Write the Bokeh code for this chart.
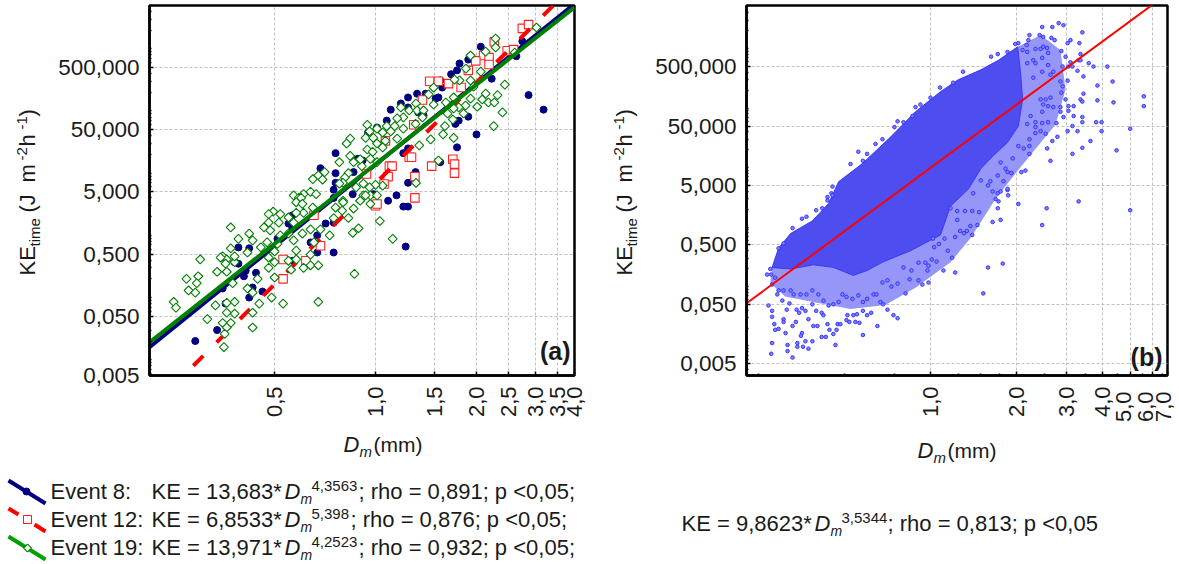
import math
from bokeh.embed import file_html
from bokeh.resources import INLINE
from bokeh.plotting import figure
from bokeh.layouts import row, column
from bokeh.models import FixedTicker, Range1d
from bokeh.core.properties import value

# --- Data: (Dm mm, KEtime J m-2 h-1) -----------------------------------------
event8 = [(2.74,1320),(2.63,760),(2.06,1080),(1.89,670),(1.78,580),(1.75,450),(1.68,390),(1.56,310),(2.22,330),(1.58,238),
(1.54,165),(1.51,158),(1.41,190),(1.33,190),(1.25,165),(1.19,132),(1.11,105),(1.25,114),(1.34,95),(1.39,85),(1.08,70),
(1.01,54),(0.95,45),(2.86,180),(3.17,105),(1.73,62),(1.77,70),(1.89,81),(2.0,42),(1.75,26),(1.56,15),(1.25,25),(1.21,21),
(0.76,21),(0.885,17),(0.915,16),(0.685,12),(0.76,10),(0.86,10.4),(1.316,10.4),(1.25,7),(0.76,7),(0.75,5.4),(1.155,4.4),
(1.09,3.6),(0.855,4.6),(0.75,4),(1.21,2.9),(1.25,2.9),(1.23,0.66),(0.985,4.6),(0.75,1.6),(0.71,1.55),(0.75,0.53),(0.67,0.53),
(0.67,1.0),(0.64,0.77),(0.565,2.1),(0.565,1.3),(0.55,1.55),(0.51,0.88),(0.565,0.39),(0.46,0.125),(0.44,0.25),(0.43,0.145),
(0.42,0.1),(0.405,0.22),(0.41,0.27),(0.39,0.35),(0.38,0.37),(0.42,0.62),(0.39,0.64),(0.35,0.14),(0.357,0.08),(0.337,0.03),(0.29,0.02)]

event12 = [(2.74,2130),(2.86,2450),(2.26,1300),(2.47,930),(2.58,970),(2.10,780),(2.18,720),(1.99,640),(2.18,560),(1.89,450),
(1.45,300),(1.54,300),(1.65,275),(1.80,238),(1.38,150),(1.30,60),(1.07,33),(1.26,18),(1.28,18),(1.47,13),(1.70,16.7),(1.72,14),
(1.72,10),(1.10,13),(1.12,13),(0.94,9.7),(1.09,8.8),(1.31,8.8),(1.31,4),(1.0,3),(1.01,3.2),(1.06,6.7),(0.655,2.1),(0.685,0.68),
(0.62,0.39),(0.53,0.41),(0.53,0.2)]

event19 = [(3.02,2200),(2.28,1460),(2.28,1050),(2.13,900),(1.92,780),(2.60,870),(1.86,480),(2.06,430),(1.92,310),(1.78,310),
(1.72,320),(1.96,245),(2.43,265),(1.49,238),(1.44,185),(2.13,190),(2.31,180),(1.92,158),(1.71,165),(2.08,153),(2.17,137),
(2.26,137),(2.01,117),(1.855,122),(1.77,114),(1.62,137),(1.49,127),(1.71,110),(1.64,91),(1.83,91),(2.39,95),(1.70,73),(2.25,57),
(1.61,57),(1.59,42),(1.71,37),(1.35,28),(1.46,35),(1.54,16),(1.32,7),(1.19,114),(1.26,102),(1.32,132),(1.33,102),(1.39,102),
(1.21,79),(1.16,76),(1.316,62),(1.38,79),(0.945,60),(1.01,52),(1.08,57),(1.14,57),(1.21,52),(0.96,47),(1.05,45),(1.11,47),
(0.934,37),(0.985,37),(0.84,36),(0.82,30),(1.07,33),(1.16,36),(0.945,24),(1.01,30),(0.98,22),(1.05,26),(0.84,19),(0.78,15),
(0.86,15),(0.91,13),(1.01,15),(0.965,17),(0.90,16.7),(0.65,8),(0.675,9.2),(0.705,10.4),(0.695,7.9),(0.83,10),(0.81,8.5),(0.80,7),
(0.78,6.8),(0.92,6.8),(1.05,6.3),(1.0,6.5),(0.96,5.9),(0.875,5.9),(0.57,4.4),(0.61,4.6),(0.64,5),(0.665,4.6),(0.92,4.4),(0.965,4.4),
(1.01,4.4),(0.59,4),(0.80,3.6),(0.60,4),(0.58,3.4),(0.605,3.2),(0.65,2.8),(0.61,2.3),(0.58,2.3),(0.495,2.4),(0.48,2.2),(0.52,2.2),
(0.48,1.6),(0.515,1.6),(0.55,1.94),(0.57,1.6),(0.465,1.34),(0.485,1.2),(0.52,1.0),(0.55,1.07),(0.605,1.07),(0.64,1.25),(0.57,0.83),
(0.655,0.77),(0.685,1.25),(0.73,1.0),(0.75,1.9),(0.80,3.4),(0.76,2.8),(0.795,2.5),(0.83,1.9),(0.86,2.7),(0.90,3.6),(0.965,3.2),
(0.934,4.4),(1.03,1.7),(0.89,1.3),(0.855,1.1),(1.125,0.88),(0.865,0.24),(0.675,0.085),(0.53,0.08),(0.49,0.1),(0.50,0.21),(0.48,0.3),
(0.50,0.37),(0.56,0.28),(0.55,0.39),(0.58,0.57),(0.58,0.41),(0.61,0.3),(0.64,0.33),(0.675,0.33),(0.64,0.49),(0.50,0.55),(0.48,0.44),
(0.475,0.77),(0.51,0.73),(0.455,0.64),(0.415,0.53),(0.43,0.83),(0.42,1.07),(0.39,0.88),(0.37,1.34),(0.37,0.62),(0.35,0.46),(0.36,0.41),
(0.337,0.26),(0.36,0.26),(0.38,0.37),(0.375,0.17),(0.415,0.14),(0.445,0.2),(0.43,0.12),(0.45,0.08),(0.43,0.057),(0.43,0.033),(0.36,0.082),
(0.38,0.085),(0.333,0.075),(0.38,0.055),(0.36,0.057),(0.315,0.045),(0.37,0.039),(0.35,0.039),(0.36,0.033),(0.355,0.026),(0.353,0.016),
(0.30,0.41),(0.273,0.2),(0.296,0.22),(0.293,0.17),(0.277,0.13),(0.29,0.12),(0.25,0.085),(0.254,0.069),(0.345,0.44),(0.357,0.35),(0.38,0.46)]

# Fit lines, end points in data units
fit8_dm, fit8_ke = [0.2118, 3.92], [0.01586, 5262]
fit12_dm, fit12_ke = [0.2118, 3.5], [0.00158, 5925]
fit19_dm, fit19_ke = [0.2118, 3.92], [0.0190, 4656]
fitb_dm, fitb_ke = [0.227, 6.754], [0.0523, 8410]

# Panel (b): outline of the saturated core of the cloud
core_dm = [0.279,0.294,0.324,0.386,0.44,0.477,0.578,0.724,0.886,1.084,1.25,1.50,1.73,2.02,2.07,2.1,2.03,1.86,1.66,1.50,1.36,1.175,1.084,0.851,0.683,0.60,0.537,0.457,0.389,0.324]
core_ke = [0.209,0.44,0.78,1.27,2.5,5.8,11.7,32.5,87,189,300,440,640,1076,365,140,50,26.5,15.9,9.6,4.4,2.25,0.737,0.4,0.26,0.186,0.154,0.21,0.232,0.197]
# Panel (b): outline of the sparser band around the core
band_dm = [0.279,0.294,0.324,0.386,0.44,0.477,0.578,0.724,0.886,1.084,1.25,1.50,1.73,2.02,2.43,2.85,2.97,2.74,2.33,1.98,1.69,1.38,1.175,0.886,0.695,0.525,0.396,0.31,0.275]
band_ke = [0.209,0.44,0.78,1.27,2.5,5.8,11.7,32.5,87,189,300,440,640,1076,1690,950,205,53,20.5,7.9,3.0,0.65,0.255,0.095,0.049,0.042,0.054,0.068,0.115]

# Panel (b): individually visible points around the core
cloud = [(0.271,0.048),(0.279,0.039),(0.279,0.031),(0.284,0.0233),(0.286,0.0187),(0.294,0.0194),(0.279,0.0112),(0.277,0.0074),(0.316,0.0104),(0.316,0.0082),
(0.329,0.0064),(0.342,0.0112),(0.342,0.0097),(0.358,0.0097),(0.374,0.009),(0.365,0.012),(0.386,0.012),(0.355,0.0165),(0.352,0.0148),(0.311,0.0165),(0.306,0.0282),
(0.306,0.0254),(0.329,0.0217),(0.338,0.0254),(0.314,0.0408),(0.321,0.052),(0.340,0.0408),(0.347,0.0362),(0.355,0.0433),(0.365,0.039),(0.386,0.0502),(0.398,0.039),
(0.416,0.0362),(0.422,0.033),(0.374,0.0282),(0.389,0.0217),(0.402,0.0217),(0.436,0.0233),(0.443,0.0187),(0.457,0.0159),(0.469,0.0187),(0.473,0.0233),(0.484,0.0233),
(0.508,0.0272),(0.52,0.0254),(0.546,0.0254),(0.564,0.0245),(0.512,0.033),(0.537,0.033),(0.553,0.0342),(0.58,0.039),(0.60,0.033),(0.62,0.0362),(0.652,0.0217),(0.58,0.0153),
(0.465,0.0104),(0.416,0.0142),(0.43,0.0142),(0.742,0.033),(0.767,0.0293),(0.707,0.0408),(0.683,0.0502),(0.668,0.055),(0.632,0.0737),(0.647,0.0737),(0.58,0.055),(0.60,0.062),
(0.559,0.071),(0.533,0.062),(0.508,0.067),(0.492,0.0737),(0.477,0.055),(0.457,0.0502),(0.44,0.048),(0.422,0.058),(0.405,0.0737),(0.386,0.086),(0.368,0.0737),(0.351,0.0737),
(0.332,0.0737),(0.324,0.086),(0.306,0.086),(0.294,0.086),(0.303,0.058),(0.291,0.0737),(0.279,0.108),(0.286,0.141),(0.268,0.159),(0.277,0.159),
(0.818,0.0766),(0.937,0.108),(0.984,0.117),(0.908,0.127),(0.845,0.132),(0.767,0.112),(0.73,0.1),(0.707,0.127),(0.679,0.117),(0.858,0.186),(0.804,0.209),(0.976,0.186),(0.984,0.224),
(1.11,0.186),(1.22,0.172),(1.05,0.263),(1.01,0.285),(0.96,0.252),(0.908,0.252),(1.19,0.304),(1.15,0.4),(1.07,0.52),(1.03,0.46),(1.02,0.64),(1.12,0.64),(1.22,0.68),(1.27,0.86),
(1.31,0.79),(1.40,0.737),(1.34,0.86),(1.38,1.04),(1.46,1.08),(1.65,1.22),(1.76,1.32),(1.48,1.78),(1.40,1.86),(1.32,1.86),(1.24,1.32),(1.24,1.86),(1.175,2.07),(1.72,2.07),(1.73,2.7),
(1.69,2.95),(1.65,3.97),(1.76,3.97),(1.86,4.2),(2.03,2.45),(2.55,2.07),(2.46,1.08),(3.30,2.7),(5.0,1.92),(1.53,0.0766),(1.59,0.209),(1.79,0.243),
(2.46,2310),(2.67,2310),(2.81,2690),(2.92,2480),(3.4,1880),(2.22,1690),(2.41,1690),(2.48,1578),(2.65,1520),(2.72,1390),(2.2,1390),(2.03,1240),(1.98,1200),(2.33,990),(2.43,990),
(2.56,1030),(2.48,1076),(2.18,880),(2.17,1150),(2.1,950),(1.86,880),(1.72,810),(1.63,733),(3.09,1390),(3.02,1240),(3.32,1240),(2.87,910),(2.58,850),(2.97,733),(3.35,810),(3.3,640),
(3.35,640),(3.09,590),(2.9,500),(3.04,500),(3.14,500),(3.58,570),(3.72,500),(4.16,500),(3.27,425),(3.43,341),(4.34,280),(3.84,240),(3.43,175),(3.35,140),(3.4,129),(3.84,135),(4.37,125),
(5.58,158),(5.58,108),(2.29,640),(2.46,700),(2.18,570),(2.33,570),(2.58,530),(2.46,410),(2.29,325),(2.69,410),(2.63,365),(2.85,280),(3.02,290),(2.9,232),(2.87,182),(2.97,140),(2.43,140),
(2.63,150),(2.53,140),(2.48,115),(2.58,108),(2.69,104),(2.85,104),(3.04,108),(3.17,108),(3.04,90),(2.85,87),(2.46,87),(2.24,73.6),(2.46,56),(2.33,58),(2.58,58),(2.76,56),(2.92,71),(3.17,73.6),
(3.4,71),(3.4,58),(3.8,58),(3.97,58),(5.0,45),(3.97,41),(3.14,50),(3.27,41),(3.02,41),(2.78,33),(2.67,28),(2.56,21),(2.33,48),(2.43,41),(2.53,37),(2.18,54),(2.33,38),(2.22,30),(2.22,23),
(2.12,21),(2.03,23),(2.22,17),(3.4,21.5),(3.63,28),(3.14,17),(4.48,19.5),(2.63,13),(2.15,8.9),(2.08,8.4),(1.94,14.3),(1.83,9.6),(1.76,12.2),(1.86,8.4),(1.92,8.1),(1.72,7.37),(1.80,5.9),
(1.62,5.9),(1.59,5.02),(1.50,6.1),(1.41,3.7),(1.86,4.4),(1.72,3.7),(1.87,3.42),(1.30,410),(1.2,268),(1.08,222),(1.0,150),(0.886,104),(0.922,115),(0.865,73.6),(0.804,58),(0.748,48),(0.767,60),
(0.679,30),(0.642,25),(0.60,17),(0.559,18.5),(0.58,13),(0.525,11.5),(0.454,4.8),(0.45,3.7),(0.436,3.2),(0.398,1.92),(0.368,1.49),(0.355,1.38),(0.329,0.96),(0.306,0.53),(0.294,0.44),(0.275,0.197),
(0.454,3.42),(0.436,2.8),(0.418,2.07)]

y_ticks = [500, 50, 5, 0.5, 0.05]
y_labels = ["500,000", "50,000", "5,000", "0,500", "0,050"]
y_minor = [m * 10.0**e for e in range(-3, 4) for m in range(2, 10) if m != 5] + [1000, 100, 10, 1, 0.1, 0.01]
xa_ticks = [0.5, 1.0, 1.5, 2.0, 2.5, 3.0, 3.5]
xa_labels = ["0,5", "1,0", "1,5", "2,0", "2,5", "3,0", "3,5"]
xb_ticks = [1.0, 2.0, 3.0, 4.0, 5.0, 6.0]
xb_minor = [0.25, 0.5, 0.75, 1.25, 1.5, 1.75, 2.5, 3.5, 4.5, 5.5, 6.5]

FONT = "Liberation Sans"
H = 470
BASE_SHIFT = 0.37   # the svg text baseline sits this many em below the given point

def base_fig(w, xr, yr, left, right, bottom, xticks, xminor, xlabels, yticks, ylabels):
    p = figure(width=w, height=H, x_axis_type="log", y_axis_type="log", x_range=Range1d(*xr), y_range=Range1d(*yr),
               output_backend="svg", toolbar_location=None, min_border_left=left, min_border_right=right,
               min_border_top=5, min_border_bottom=bottom, background_fill_color="white", border_fill_color="white")
    p.xaxis.ticker = FixedTicker(ticks=xticks, minor_ticks=xminor)
    p.yaxis.ticker = FixedTicker(ticks=yticks, minor_ticks=y_minor)
    p.xaxis.major_label_overrides = dict(zip(xticks, xlabels))
    p.yaxis.major_label_overrides = dict(zip(yticks, ylabels))
    for ax in (p.xaxis[0], p.yaxis[0]):
        ax.major_tick_in, ax.major_tick_out = 4, 0
        ax.minor_tick_in, ax.minor_tick_out = 2, 0
        ax.major_tick_line_width, ax.minor_tick_line_width = 1.5, 1.5
        ax.major_tick_line_color, ax.minor_tick_line_color = "black", "black"
        ax.axis_line_width, ax.axis_line_color = 2.5, "black"
        ax.major_label_text_font = FONT
        ax.major_label_text_font_size = "22px"
        ax.major_label_text_color = "#1a1a1a"
        ax.major_label_standoff = 11
    p.yaxis.major_label_standoff = 10
    p.yaxis.major_label_text_font_size = "22.5px"
    p.xaxis.major_label_orientation = math.pi / 2
    p.outline_line_color, p.outline_line_width, p.outline_line_alpha = "black", 2.5, 1
    for g in (p.xgrid[0], p.ygrid[0]):
        g.grid_line_color, g.grid_line_dash, g.grid_line_width = "#c0c0c0", "3 2", 1
    return p

def xy(pairs):
    return [a for a, _ in pairs], [b for _, b in pairs]

# Panel (a)
ya_bottom = 0.00558
xa_right = 3.92
pa = base_fig(600, (0.2118, xa_right), (ya_bottom, 4966), 149, 26, 95,
              xa_ticks + [xa_right], [], xa_labels + ["4,0"], y_ticks + [ya_bottom], y_labels + ["0,005"])
x, y = xy(event8)
pa.scatter(x, y, size=7, color="#000080")
pa.line(fit8_dm, fit8_ke, line_color="#000080", line_width=4)
x, y = xy(event12)
pa.scatter(x, y, marker="square", size=8.5, line_color="#ff2020", fill_color="white", line_width=1.1)
pa.line(fit12_dm, fit12_ke, line_color="#ff0000", line_width=4, line_dash="14 19", line_dash_offset=4)
x, y = xy(event19)
pa.scatter(x, y, marker="square", angle=math.pi / 4, size=6.3, line_color="#008000", fill_color="white", line_width=1.1)
pa.line(fit19_dm, fit19_ke, line_color="#008000", line_width=4)

# Panel (b)
xb_right = 6.754
pb = base_fig(575, (0.227, xb_right), (0.00319, 5320), 146, 8, 91,
              xb_ticks + [xb_right], xb_minor, ["1,0", "2,0", "3,0", "4,0", "", "", ""], y_ticks + [0.005], y_labels + ["0,005"])
pb.patch(band_dm, band_ke, fill_color="#9696f8", line_color=None)
pb.patch(core_dm, core_ke, fill_color="#4d4df0", line_color="#3a3af5", line_width=1)
x, y = xy(cloud)
pb.scatter(x, y, size=3.6, line_color="#2a2aff", fill_color="#8080ff", line_width=0.9)
pb.line(fitb_dm, fitb_ke, line_color="#ff0000", line_width=2)

# Transparent sheet over the whole page, in page pixels: titles, panel tags, legend
ov = figure(width=1179, height=564, x_range=(0, 1179), y_range=(564, 0), x_axis_location=None, y_axis_location=None,
            output_backend="svg", toolbar_location=None, min_border=0, outline_line_color=None,
            background_fill_color=None, border_fill_color=None, margin=(-H, 0, 0, 0))
ov.grid.visible = False

def txt(x, y, text, size, style="normal", angle=0.0, align="left", base="alphabetic"):
    if base == "alphabetic":
        if angle:
            x -= BASE_SHIFT * size
        else:
            y -= BASE_SHIFT * size
    ov.text([x], [y], text=[text], text_font=value(FONT), text_font_size=f"{size}px", text_font_style=style,
            text_color="#1a1a1a", text_baseline=base, text_align=align, angle=angle)

def ytitle(xb):
    a = math.pi / 2
    txt(xb, 275, "KE", 22, angle=a)
    txt(xb + 5, 246, "time", 15, angle=a)
    txt(xb, 212, "(J", 22, angle=a)
    txt(xb, 182, "m", 22, angle=a)
    txt(xb - 8, 160, "-2", 15, angle=a)
    txt(xb, 146, "h", 22, angle=a)
    txt(xb - 8, 129, "-1", 15, angle=a)
    txt(xb, 116, ")", 22, angle=a)

def xtitle(x, y):
    txt(x, y, "D", 22, "italic")
    txt(x + 16, y + 5, "m", 15, "italic")
    txt(x + 30, y, "(mm)", 21)

txt(570, 360, "(a)", 25, "bold", align="right")
txt(1162, 366, "(b)", 25, "bold", align="right")
ytitle(35)
ytitle(632)
xtitle(343, 452)
xtitle(917, 458)
for px, t in [(1123, "5,0"), (1145, "6,0"), (1163, "7,0")]:
    txt(px, 391, t, 22, angle=math.pi / 2, align="right", base="middle")

rows = [("Event 8:", "KE = 13,683*", "4,3563", "; rho = 0,891; p <0,05;", 499, 358),
        ("Event 12:", "KE = 6,8533*", "5,398", "; rho = 0,876; p <0,05;", 527, 350),
        ("Event 19:", "KE = 13,971*", "4,2523", "; rho = 0,932; p <0,05;", 555, 358)]
for ev, ke, sup, rest, yb, xr in rows:
    txt(50, yb, ev, 22)
    txt(151, yb, ke, 22)
    txt(284, yb, "D", 22, "italic")
    txt(300, yb + 5, "m", 14, "italic")
    txt(311, yb - 8, sup, 15)
    txt(xr, yb, rest, 22)
txt(681, 531, "KE = 9,8623*", 22)
txt(814, 531, "D", 22, "italic")
txt(830, 536, "m", 14, "italic")
txt(841, 523, "3,5344", 15)
txt(887, 531, "; rho = 0,813; p <0,05", 22)

ov.line([8, 45], [480, 503], line_color="#000080", line_width=4)
ov.scatter([26], [491], size=7, color="#000080")
ov.line([8, 18], [508, 514], line_color="#ff0000", line_width=4)
ov.line([34, 45], [524, 531], line_color="#ff0000", line_width=4)
ov.scatter([27], [519], marker="square", size=8, line_color="#ff2020", fill_color="white", line_width=1.1)
ov.line([8, 45], [536, 559], line_color="#00a000", line_width=4)
ov.scatter([27], [547.5], marker="square", angle=math.pi / 4, size=5.5, line_color="#008000", fill_color="white", line_width=1.1)

page = column(row(pa, pb, spacing=0), ov, spacing=0)
open("out.html", "w").write(file_html(page, INLINE))
